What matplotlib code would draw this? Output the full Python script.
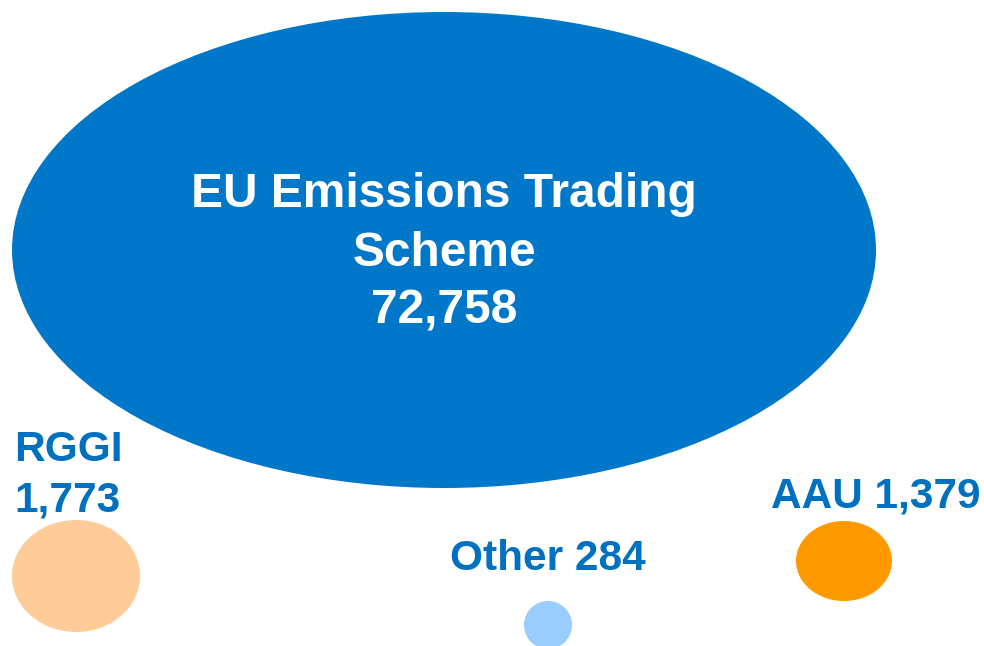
import matplotlib.pyplot as plt
from matplotlib.patches import Ellipse

# market volumes
markets = ['EU Emissions Trading\nScheme', 'RGGI', 'Other', 'AAU']
values = [72758, 1773, 284, 1379]
colors = ['#0077C8', '#FFCC99', '#99CCFF', '#FF9900']

# bubble layout in pixel coords (center x, center y, width, height)
centers = [(444, 250), (76, 576), (548, 625), (844, 561)]
sizes = [(864, 476), (128, 112), (48, 48), (96, 80)]

label_blue = '#0070C0'
fam = ['Liberation Sans', 'DejaVu Sans']

fig = plt.figure(figsize=(9.84, 6.46), dpi=100)
ax = fig.add_axes([0, 0, 1, 1])
ax.set_xlim(0, 984)
ax.set_ylim(646, 0)
ax.axis('off')

for (cx, cy), (w, h), col in zip(centers, sizes, colors):
    ax.add_patch(Ellipse((cx, cy), w, h, facecolor=col, edgecolor='none'))

# big bubble label
ax.text(444, 253, f'{markets[0]}\n{values[0]:,}', ha='center', va='center',
        color='white', fontsize=34.5, fontweight='bold', linespacing=1.38,
        family=fam)

ax.text(14, 475, f'{markets[1]}\n{values[1]:,}', ha='left', va='center',
        color=label_blue, fontsize=30.5, fontweight='bold', linespacing=1.34,
        family=fam)
ax.text(548, 559, f'{markets[2]} {values[2]:,}', ha='center', va='center',
        color=label_blue, fontsize=30.5, fontweight='bold', family=fam)
ax.text(876, 496, f'{markets[3]} {values[3]:,}', ha='center', va='center',
        color=label_blue, fontsize=30.5, fontweight='bold', family=fam)

fig.savefig('out.png', dpi=100)
